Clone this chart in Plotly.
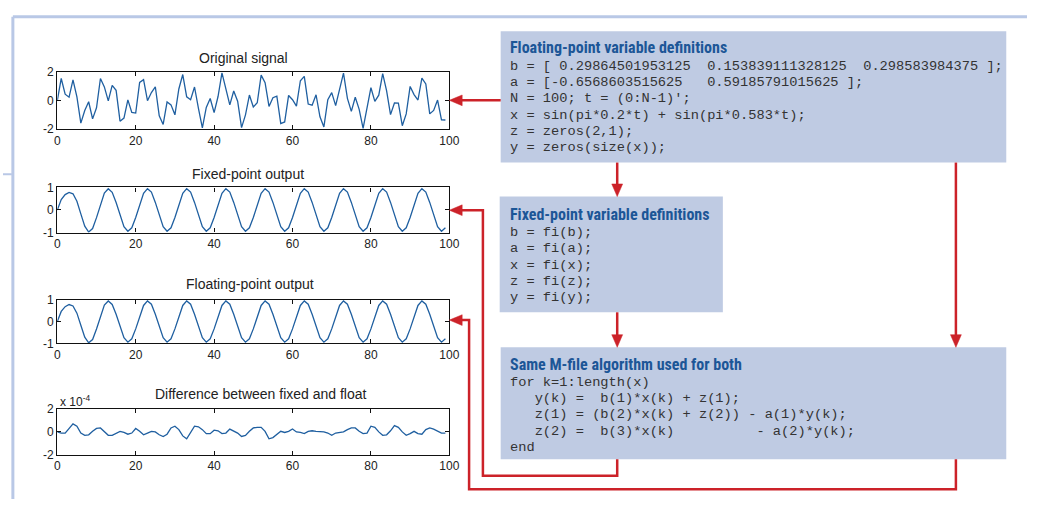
import plotly.graph_objects as go

W, H = 1037, 506

# ---------------- data ----------------
t = list(range(100))

original_signal = [
    0.000, 1.554, 0.453, 0.242, 1.452, 0.264, -1.588, -0.699, -0.081, -1.288,
    -0.509, 1.551, 0.964, -0.018, 1.075, 0.718, -1.445, -1.227, 0.049, -0.828,
    -0.876, 1.279, 1.471, -0.008, 0.563, 0.972, -1.064, -1.678, -0.100, -0.300,
    -1.000, 0.815, 1.833, 0.269, 0.058, 0.956, -0.550, -1.926, -0.486, 0.147,
    -0.844, 0.288, 1.950, 0.736, -0.300, 0.673, -0.047, -1.903, -1.001, 0.390,
    -0.454, -0.156, 1.789, 1.263, -0.410, 0.203, 0.306, -1.615, -1.503, 0.360,
    0.063, -0.392, 1.394, 1.703, -0.243, -0.324, 0.410, -1.141, -1.850, 0.066,
    0.562, -0.356, 0.876, 1.934, 0.157, -0.760, 0.236, -0.615, -1.948, -0.410,
    0.905, -0.057, 0.379, 1.891, 0.676, -0.985, -0.168, -0.183, -1.768, -0.936,
    0.996, 0.422, 0.041, 1.586, 1.171, -0.935, -0.688, 0.036, -1.360, -1.364,
]

fixed_output = [
    0.000, 0.464, 0.679, 0.778, 0.715, 0.384, -0.171, -0.714, -0.974, -0.823,
    -0.339, 0.265, 0.749, 0.941, 0.781, 0.330, -0.250, -0.738, -0.943, -0.789,
    -0.335, 0.247, 0.736, 0.943, 0.790, 0.335, -0.247, -0.736, -0.943, -0.790,
    -0.335, 0.247, 0.736, 0.943, 0.790, 0.335, -0.247, -0.736, -0.943, -0.790,
    -0.335, 0.247, 0.736, 0.943, 0.790, 0.335, -0.247, -0.736, -0.943, -0.790,
    -0.335, 0.247, 0.736, 0.943, 0.790, 0.335, -0.247, -0.736, -0.943, -0.790,
    -0.335, 0.247, 0.736, 0.943, 0.790, 0.335, -0.247, -0.736, -0.943, -0.790,
    -0.335, 0.247, 0.736, 0.943, 0.790, 0.335, -0.247, -0.736, -0.943, -0.790,
    -0.335, 0.247, 0.736, 0.943, 0.790, 0.335, -0.247, -0.736, -0.943, -0.790,
    -0.335, 0.247, 0.736, 0.943, 0.790, 0.335, -0.247, -0.736, -0.943, -0.790,
]

float_output = [
    0.000, 0.464, 0.679, 0.778, 0.715, 0.384, -0.171, -0.714, -0.974, -0.823,
    -0.339, 0.265, 0.749, 0.941, 0.781, 0.330, -0.250, -0.738, -0.943, -0.789,
    -0.335, 0.247, 0.736, 0.943, 0.790, 0.335, -0.247, -0.736, -0.943, -0.790,
    -0.335, 0.247, 0.736, 0.943, 0.790, 0.335, -0.247, -0.736, -0.943, -0.790,
    -0.335, 0.247, 0.736, 0.943, 0.790, 0.335, -0.247, -0.736, -0.943, -0.790,
    -0.335, 0.247, 0.736, 0.943, 0.790, 0.335, -0.247, -0.736, -0.943, -0.790,
    -0.335, 0.247, 0.736, 0.943, 0.790, 0.335, -0.247, -0.736, -0.943, -0.790,
    -0.335, 0.247, 0.736, 0.943, 0.790, 0.335, -0.247, -0.736, -0.943, -0.790,
    -0.335, 0.247, 0.736, 0.943, 0.790, 0.335, -0.247, -0.736, -0.943, -0.790,
    -0.335, 0.247, 0.736, 0.943, 0.790, 0.335, -0.247, -0.736, -0.943, -0.790,
]

# difference in units of 1e-4
difference_e4 = [
    0.00, -0.10, -0.10, 0.35, 0.70, 0.50, -0.10, -0.30, -0.25, 0.05,
    0.30, 0.35, 0.00, -0.30, -0.30, -0.15, 0.05, -0.05, -0.20, -0.10,
    0.30, 0.05, -0.25, -0.10, 0.05, 0.00, -0.25, -0.40, -0.20, 0.35,
    0.50, 0.20, -0.35, -0.60, 0.00, 0.50, 0.45, 0.20, -0.15, -0.15,
    0.15, 0.10, -0.15, -0.10, 0.25, 0.05, -0.10, -0.40, -0.30, 0.05,
    0.35, 0.40, 0.40, 0.05, -0.60, -0.50, -0.25, 0.05, -0.05, 0.05,
    0.25, 0.00, -0.05, -0.15, 0.05, 0.10, 0.05, 0.05, 0.00, -0.10,
    -0.30, -0.10, -0.05, 0.00, 0.20, 0.35, 0.35, 0.05, -0.15, -0.10,
    0.50, 0.40, 0.00, -0.30, -0.25, 0.10, 0.55, 0.40, 0.00, -0.30,
    -0.15, 0.05, -0.15, -0.20, 0.20, 0.35, 0.25, 0.05, -0.10, -0.10,
]

x_ticks = [0, 20, 40, 60, 80, 100]
panel_titles = ["Original signal", "Fixed-point output",
                "Floating-point output", "Difference between fixed and float"]
panel_series = [original_signal, fixed_output, float_output, difference_e4]
panel_yticks = [[-2, 0, 2], [-1, 0, 1], [-1, 0, 1], [-2, 0, 2]]

box1_title = "Floating-point variable definitions"
box1_code = [
    "b = [ 0.29864501953125  0.153839111328125  0.298583984375 ];",
    "a = [-0.6568603515625   0.59185791015625 ];",
    "N = 100; t = (0:N-1)';",
    "x = sin(pi*0.2*t) + sin(pi*0.583*t);",
    "z = zeros(2,1);",
    "y = zeros(size(x));",
]
box2_title = "Fixed-point variable definitions"
box2_code = ["b = fi(b);", "a = fi(a);", "x = fi(x);", "z = fi(z);", "y = fi(y);"]
box3_title = "Same M-file algorithm used for both"
box3_code = [
    "for k=1:length(x)",
    "   y(k) =  b(1)*x(k) + z(1);",
    "   z(1) = (b(2)*x(k) + z(2)) - a(1)*y(k);",
    "   z(2) =  b(3)*x(k)          - a(2)*y(k);",
    "end",
]

# ---------------- layout helpers ----------------
def px(x):
    return x / W

def py(y):
    return 1 - y / H

LINE_BLUE = "#1f5fa0"
RED = "#cc2229"
FRAME = "#b9c8e6"
BOXFILL = "#bfcbe3"
TITLE_BLUE = "#1c5697"
CODE_COL = "#333333"

plot_left, plot_right = 55, 452
panel_rows = [(67, 125.5), (185.5, 232), (301, 346), (413.5, 460.5)]
title_pos = [(244, 52), (248, 172), (250, 285), (261, 398)]

fig = go.Figure()
layout = dict(
    width=W, height=H, margin=dict(l=0, r=0, t=0, b=0),
    paper_bgcolor="white", plot_bgcolor="white", showlegend=False,
)

axis_font = dict(family="Liberation Sans, Arial, sans-serif", size=12, color="#222")
for i, (series, yt, (top, bot)) in enumerate(zip(panel_series, panel_yticks, panel_rows)):
    n = "" if i == 0 else str(i + 1)
    fig.add_trace(go.Scatter(x=t, y=series, mode="lines",
                             line=dict(color=LINE_BLUE, width=1.3),
                             xaxis="x" + n, yaxis="y" + n, hoverinfo="skip"))
    layout["xaxis" + n] = dict(
        domain=[px(plot_left), px(plot_right)], anchor="y" + n, range=[0, 100],
        tickvals=x_ticks, ticktext=[str(v) for v in x_ticks],
        ticks="inside", ticklen=4, tickcolor="#111",
        showline=True, linecolor="#111", linewidth=1.3, mirror="ticks",
        showgrid=False, zeroline=False, tickfont=axis_font, fixedrange=True,
    )
    layout["yaxis" + n] = dict(
        domain=[py(bot), py(top)], anchor="x" + n, range=[yt[0], yt[-1]],
        tickvals=yt, ticktext=[str(v) for v in yt],
        ticks="inside", ticklen=4, tickcolor="#111",
        showline=True, linecolor="#111", linewidth=1.3, mirror="ticks",
        showgrid=False, zeroline=False, tickfont=axis_font, fixedrange=True,
        ticklabelstandoff=0,
    )

annotations = []
for title, (cx, cy) in zip(panel_titles, title_pos):
    annotations.append(dict(x=px(cx), y=py(cy), xref="paper", yref="paper",
                            text=title, showarrow=False, xanchor="center", yanchor="middle",
                            font=dict(family="Liberation Sans, Arial, sans-serif", size=14, color="#222")))
annotations.append(dict(x=px(56), y=py(405), xref="paper", yref="paper",
                        text="x 10<sup>-4</sup>", showarrow=False, xanchor="left", yanchor="middle",
                        font=dict(family="Liberation Sans, Arial, sans-serif", size=12, color="#222")))

def add_box_text(title, code, x0, title_y, first_y, step=16.8):
    annotations.append(dict(x=px(x0), y=py(title_y), xref="paper", yref="paper",
                            text="<b>" + title + "</b>", showarrow=False,
                            xanchor="left", yanchor="middle",
                            font=dict(family="Liberation Sans Narrow, Roboto Condensed, Liberation Sans, sans-serif",
                                      size=16, color=TITLE_BLUE)))
    for k, line in enumerate(code):
        annotations.append(dict(x=px(x0), y=py(first_y + k * step), xref="paper", yref="paper",
                                text=line.replace(" ", "\u00a0"), showarrow=False,
                                xanchor="left", yanchor="middle",
                                font=dict(family="Liberation Mono, Courier New, monospace",
                                          size=13.7, color=CODE_COL)))

add_box_text(box1_title, box1_code, 511, 42, 61)
add_box_text(box2_title, box2_code, 511, 213, 232)
add_box_text(box3_title, box3_code, 511, 368, 386)

shapes = []
def seg(x0, y0, x1, y1, color, width):
    shapes.append(dict(type="line", xref="paper", yref="paper",
                       x0=px(x0), y0=py(y0), x1=px(x1), y1=py(y1),
                       line=dict(color=color, width=width)))

seg(10, 10, W, 10, FRAME, 3)
seg(10, 10, 10, H, FRAME, 3)
seg(0, 172, 9, 172, FRAME, 2)

for (x0, y0, x1, y1) in [(504, 25, 1016, 160), (503, 195, 729, 314), (504, 350, 1016, 465)]:
    shapes.append(dict(type="rect", xref="paper", yref="paper",
                       x0=px(x0), y0=py(y0), x1=px(x1), y1=py(y1),
                       fillcolor=BOXFILL, line=dict(width=0), layer="below"))

def polyline(pts):
    d = "M " + " L ".join(f"{px(a):.5f},{py(b):.5f}" for a, b in pts)
    shapes.append(dict(type="path", xref="paper", yref="paper", path=d,
                       line=dict(color=RED, width=2.5)))

def head(tipx, tipy, direction, L=13, hw=5.5):
    if direction == "left":
        pts = [(tipx, tipy), (tipx + L, tipy - hw), (tipx + L, tipy + hw)]
    else:
        pts = [(tipx, tipy), (tipx - hw, tipy - L), (tipx + hw, tipy - L)]
    d = "M " + " L ".join(f"{px(a):.5f},{py(b):.5f}" for a, b in pts) + " Z"
    shapes.append(dict(type="path", xref="paper", yref="paper", path=d,
                       fillcolor=RED, line=dict(color=RED, width=0.5)))

polyline([(504, 96), (462, 96)]); head(452, 96, "left")
polyline([(622, 160), (622, 185)]); head(622, 195, "down")
polyline([(622, 314), (622, 340)]); head(622, 350, "down")
polyline([(965, 160), (965, 340)]); head(965, 350, "down")
polyline([(622, 465), (622, 482), (486, 482), (486, 209), (462, 209)]); head(452, 209, "left")
polyline([(965, 465), (965, 496), (472, 496), (472, 322), (462, 322)]); head(452, 322, "left")

layout["annotations"] = annotations
layout["shapes"] = shapes
fig.update_layout(**layout)
fig.write_html("out.html", config={"displayModeBar": False},
               post_script="document.body.style.margin='0';document.body.style.overflow='hidden';")
